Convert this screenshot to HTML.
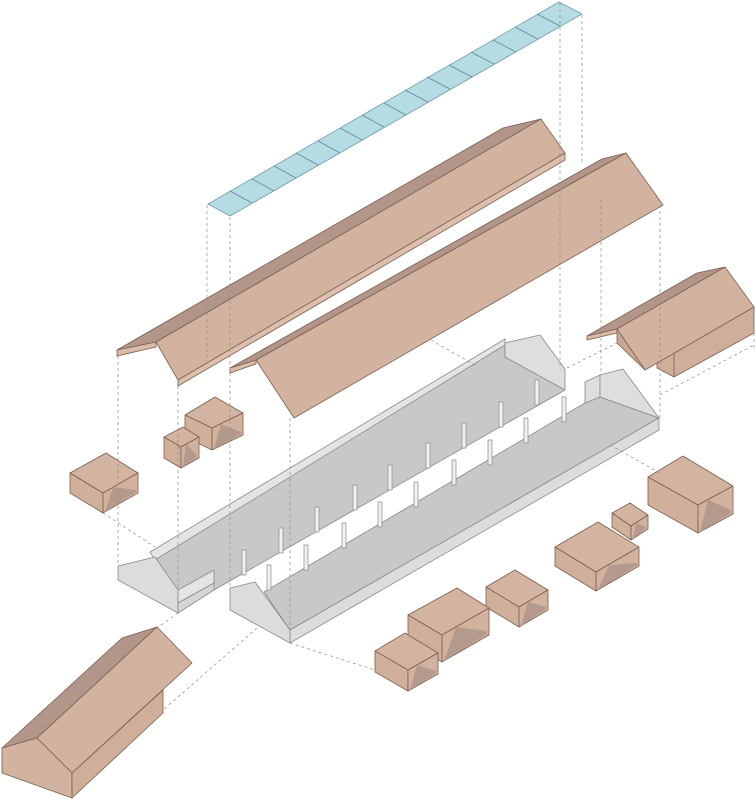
<!DOCTYPE html>
<html><head><meta charset="utf-8"><style>html,body{margin:0;padding:0;background:#fff}svg{display:block}</style></head>
<body>
<svg width="756" height="800" viewBox="0 0 756 800" xmlns="http://www.w3.org/2000/svg">
<g stroke-linejoin="round">
<!-- skylight -->
<polygon points="208,204 559,2 582,14 230,216" fill="#b5dbe3" stroke="#6f9eaa" stroke-width="0.8"/>
<g stroke="#5f8a96" stroke-width="0.8">
<line x1="230" y1="191" x2="252" y2="203"/><line x1="252" y1="179" x2="274" y2="191"/><line x1="274" y1="166" x2="296" y2="178"/><line x1="296" y1="153" x2="318" y2="165"/><line x1="318" y1="141" x2="340" y2="153"/><line x1="340" y1="128" x2="362" y2="140"/><line x1="362" y1="115" x2="384" y2="127"/><line x1="384" y1="103" x2="406" y2="115"/><line x1="405" y1="90" x2="428" y2="102"/><line x1="427" y1="77" x2="450" y2="89"/><line x1="449" y1="65" x2="472" y2="77"/><line x1="471" y1="52" x2="494" y2="64"/><line x1="493" y1="40" x2="516" y2="52"/><line x1="515" y1="27" x2="538" y2="39"/><line x1="537" y1="14" x2="560" y2="26"/>
</g>
<!-- roof 1 -->
<g stroke="#7d5e50" stroke-width="0.8">
<polygon points="117,350 156,342 541,119 503,128" fill="#b3968a"/>
<polygon points="117,350 156,342 156,347 117,356" fill="#d9bba8"/>
<polygon points="156,342 541,119 565,153 178,380" fill="#d2b39f"/>
<polygon points="178,380 565,153 565,160 178,386" fill="#dcbfad"/>
<!-- roof 2 -->
<polygon points="230,368 256,360 626,153 602,159" fill="#b3968a"/>
<polygon points="230,368 256,360 256,364 230,373" fill="#d9bba8"/>
<polygon points="256,360 626,153 663,205 294,418" fill="#d2b39f"/>
<!-- right house -->
<polygon points="587,336 617,329 725,267 697,273" fill="#b3968a"/>
<polygon points="587,336 617,329 617,333 587,340" fill="#d9bba8"/>
<polygon points="657,362 754,307 754,333 674,377 657,368" fill="#cfae9a"/>
<line x1="674" y1="354" x2="674" y2="377"/>
<polygon points="617,329 725,267 754,307 645,370" fill="#d2b39f"/>
<polygon points="617,329 617,343 645,370" fill="#c8a894"/>
<!-- bottom-left house -->
<polygon points="2,748 37,738 157,627 122,638" fill="#b3968a"/>
<polygon points="2,748 37,738 72,773 72,798 2,773" fill="#d2b39f"/>
<polygon points="72,773 163,690 163,713 72,798" fill="#cfae9a"/>
<polygon points="37,738 157,627 192,663 72,773" fill="#d2b39f"/>
</g>
<!-- slab 1 -->
<g stroke="#8a8a8c" stroke-width="0.8">
<polygon points="155,557 505,343 505,357 565,390 214,590 178,592" fill="#c8c8ca"/>
<polygon points="150,552 505,339 505,345 155,560" fill="#e4e4e6"/>
<polygon points="505,343 540,335 565,369 565,390 505,357" fill="#dedee0"/>
<polygon points="118,566 155,557 178,590 178,613 118,580" fill="#dcdcde"/>
<polygon points="178,590 214,570 214,583 178,603" fill="#e4e4e6"/>
<polygon points="178,603 214,583 214,590 178,613" fill="#d6d6d8"/>
<!-- slab 2 -->
<polygon points="264,592 585,403 600,397 659,418 290,630" fill="#c8c8ca"/>
<polygon points="585,382 600,375 600,397 585,403" fill="#dedee0"/>
<polygon points="600,375 623,369 659,418 600,397" fill="#dedee0"/>
<polygon points="290,630 659,418 659,430 290,643" fill="#dcdcde"/>
<polygon points="230,588 255,582 290,630 290,643 230,610" fill="#dcdcde"/>
</g>
<!-- columns -->
<g fill="#f0f0f0" stroke="#8a8a8c" stroke-width="0.7">
<rect x="242" y="550" width="4" height="25"/><rect x="279" y="528" width="4" height="25"/><rect x="315" y="507" width="4" height="25"/><rect x="353" y="485" width="4" height="25"/><rect x="388" y="465" width="4" height="25"/><rect x="426" y="443" width="4" height="25"/><rect x="462" y="423" width="4" height="25"/><rect x="499" y="402" width="4" height="25"/><rect x="535" y="380" width="4" height="25"/>
<rect x="267" y="565" width="4" height="25"/><rect x="304" y="545" width="4" height="25"/><rect x="342" y="523" width="4" height="25"/><rect x="378" y="502" width="4" height="25"/><rect x="414" y="482" width="4" height="25"/><rect x="452" y="460" width="4" height="25"/><rect x="488" y="440" width="4" height="25"/><rect x="524" y="418" width="4" height="25"/><rect x="562" y="397" width="4" height="25"/>
</g>
<!-- boxes -->
<g stroke="#7d5e50" stroke-width="0.8">
<polygon points="648,477 683,456 733,486 698,505" fill="#d3b4a0"/><polygon points="648,477 698,505 698,533 648,505" fill="#d0af9b"/><polygon points="698,505 733,486 733,514 698,533" fill="#d2b29e"/><polygon points="708,500 731,510 731,513 700,532" fill="#b39a8c" stroke="none"/>
<polygon points="612,513 630,503 648,515 631,526" fill="#d3b4a0"/><polygon points="612,513 631,526 631,540 612,527" fill="#d0af9b"/><polygon points="631,526 648,515 648,529 631,540" fill="#d2b29e"/><polygon points="636,523 646,527 646,528 633,539" fill="#b39a8c" stroke="none"/>
<polygon points="555,547 598,522 639,547 596,572" fill="#d3b4a0"/><polygon points="555,547 596,572 596,591 555,566" fill="#d0af9b"/><polygon points="596,572 639,547 639,566 596,591" fill="#d2b29e"/><polygon points="609,565 637,563 637,565 598,590" fill="#b39a8c" stroke="none"/>
<polygon points="486,587 515,570 548,590 519,607" fill="#d3b4a0"/><polygon points="486,587 519,607 519,627 486,607" fill="#d0af9b"/><polygon points="519,607 548,590 548,610 519,627" fill="#d2b29e"/><polygon points="528,602 546,607 546,609 521,626" fill="#b39a8c" stroke="none"/>
<polygon points="408,615 457,588 489,608 442,635" fill="#d3b4a0"/><polygon points="408,615 442,635 442,662 408,642" fill="#d0af9b"/><polygon points="442,635 489,608 489,635 442,662" fill="#d2b29e"/><polygon points="456,627 487,631 487,634 444,661" fill="#b39a8c" stroke="none"/>
<polygon points="375,651 405,633 438,653 408,670" fill="#d3b4a0"/><polygon points="375,651 408,670 408,691 375,672" fill="#d0af9b"/><polygon points="408,670 438,653 438,674 408,691" fill="#d2b29e"/><polygon points="417,665 436,671 436,673 410,690" fill="#b39a8c" stroke="none"/>
<polygon points="70,473 106,453 138,473 103,493" fill="#d3b4a0"/><polygon points="70,473 103,493 103,513 70,493" fill="#d0af9b"/><polygon points="103,493 138,473 138,493 103,513" fill="#d2b29e"/><polygon points="113,487 136,490 136,492 105,512" fill="#b39a8c" stroke="none"/>
<polygon points="185,415 215,397 243,413 212,428" fill="#d3b4a0"/><polygon points="185,415 212,428 212,450 185,437" fill="#d0af9b"/><polygon points="212,428 243,413 243,435 212,450" fill="#d2b29e"/><polygon points="221,424 241,432 241,434 214,449" fill="#b39a8c" stroke="none"/>
<polygon points="164,437 183,427 199,437 181,447" fill="#d3b4a0"/><polygon points="164,437 181,447 181,468 164,458" fill="#d0af9b"/><polygon points="181,447 199,437 199,458 181,468" fill="#d2b29e"/><polygon points="186,444 197,455 197,457 183,467" fill="#b39a8c" stroke="none"/>
</g>
<!-- dashed guide lines -->
<g stroke="#8c8c8c" stroke-width="0.7" stroke-dasharray="3,3" fill="none">
<line x1="118" y1="356" x2="118" y2="566"/>
<line x1="178" y1="386" x2="178" y2="590"/>
<line x1="207" y1="205" x2="207" y2="360"/>
<line x1="230" y1="217" x2="230" y2="588"/>
<line x1="290" y1="418" x2="290" y2="630"/>
<line x1="560" y1="3" x2="560" y2="370"/>
<line x1="582" y1="15" x2="582" y2="165"/>
<line x1="601" y1="200" x2="601" y2="375"/>
<line x1="660" y1="205" x2="660" y2="418"/>
<line x1="754" y1="333" x2="754" y2="350"/>
<line x1="431" y1="340" x2="478" y2="367"/>
<line x1="567" y1="368" x2="617" y2="343"/>
<line x1="660" y1="395" x2="754" y2="345"/>
<line x1="610" y1="445" x2="660" y2="473"/>
<line x1="290" y1="643" x2="375" y2="670"/>
<line x1="103" y1="513" x2="155" y2="547"/>
<line x1="178" y1="613" x2="157" y2="628"/>
<line x1="257" y1="628" x2="163" y2="710"/>
</g>
</g>
</svg>
</body></html>
